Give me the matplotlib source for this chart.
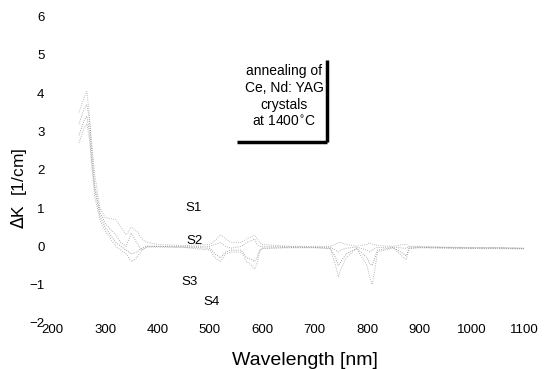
import matplotlib
matplotlib.use("Agg")
import matplotlib.pyplot as plt
from matplotlib.lines import Line2D

plt.rcParams['font.family'] = ['Liberation Sans', 'DejaVu Sans']

# wavelength grid (nm)
wl = [250, 260, 265, 270, 275, 280, 290, 300, 320, 330, 340, 350, 360, 370, 380,
      400, 450, 500, 510, 520, 530, 540, 560, 570, 580, 585, 590, 595, 600,
      650, 700, 730, 740, 745, 750, 760, 780, 800, 805, 810, 815, 820,
      850, 870, 875, 880, 900, 950, 1000, 1050, 1100]

# delta K (1/cm) for the four annealed samples
s1 = [3.5, 3.9, 4.05, 3.4, 2.6, 1.9, 1.0, 0.75, 0.7, 0.5, 0.3, 0.5, 0.4, 0.2, 0.1,
      0.05, 0.02, 0.05, 0.15, 0.3, 0.2, 0.1, 0.1, 0.2, 0.25, 0.3, 0.2, 0.1, 0.05,
      0.0, 0.0, 0.0, 0.05, 0.1, 0.1, 0.05, 0.0, 0.05, 0.1, 0.05, 0.05, 0.02,
      0.0, 0.05, 0.05, 0.0, 0.0, -0.02, -0.03, -0.03, -0.05]
s2 = [3.2, 3.6, 3.7, 3.3, 2.4, 1.6, 0.9, 0.6, 0.3, 0.1, 0.0, 0.35, 0.1, -0.1, 0.0,
      0.0, 0.0, 0.0, 0.05, 0.1, 0.0, -0.05, 0.0, 0.1, 0.15, 0.2, 0.05, 0.0, 0.0,
      0.0, -0.02, -0.02, -0.1, -0.15, -0.1, -0.05, -0.02, -0.1, -0.15, -0.1, -0.05, -0.03,
      -0.02, -0.05, -0.05, -0.02, -0.02, -0.03, -0.04, -0.04, -0.05]
s3 = [2.9, 3.3, 3.4, 3.0, 2.2, 1.5, 0.8, 0.5, 0.1, 0.0, -0.1, -0.2, -0.15, -0.05, 0.0,
      0.0, -0.02, -0.05, -0.2, -0.3, -0.15, -0.1, -0.1, -0.3, -0.35, -0.4, -0.3, -0.1, -0.05,
      -0.03, -0.03, -0.05, -0.3, -0.5, -0.4, -0.2, -0.05, -0.3, -0.45, -0.5, -0.3, -0.1,
      -0.03, -0.2, -0.25, -0.05, -0.03, -0.04, -0.05, -0.05, -0.06]
s4 = [2.7, 3.1, 3.2, 2.8, 2.0, 1.3, 0.7, 0.4, 0.0, -0.1, -0.2, -0.4, -0.3, -0.1, -0.02,
      -0.02, -0.03, -0.1, -0.3, -0.4, -0.2, -0.15, -0.15, -0.4, -0.5, -0.6, -0.45, -0.15, -0.05,
      -0.04, -0.04, -0.06, -0.5, -0.8, -0.6, -0.3, -0.06, -0.5, -0.8, -1.0, -0.6, -0.15,
      -0.04, -0.3, -0.35, -0.06, -0.04, -0.05, -0.06, -0.06, -0.07]

series = [s1, s2, s3, s4]
names = ['S1', 'S2', 'S3', 'S4']
label_pos = [(468, 1.0), (470, 0.15), (462, -0.92), (504, -1.45)]

fig = plt.figure(figsize=(5.5, 3.69), dpi=100)
ax = fig.add_axes([0.096, 0.125, 0.857, 0.83])

for s, c in zip(series, ['#a8a8a8', '#989898', '#888888', '#a0a0a0']):
    ax.plot(wl, s, color=c, lw=0.6, ls=':')

for n, (x, y) in zip(names, label_pos):
    ax.text(x, y, n, fontsize=9.5, ha='center', va='center')

ax.set_xlim(200, 1100)
ax.set_ylim(-2, 6)
ax.set_xticks(range(200, 1101, 100))
ax.set_yticks(range(-2, 7))
for sp in ax.spines.values():
    sp.set_visible(False)
ax.tick_params(length=0, labelsize=9.5)
ax.tick_params(axis='x', pad=1)
ax.tick_params(axis='y', pad=6)
ax.set_xlabel('Wavelength [nm]', fontsize=14)
ax.xaxis.set_label_coords(0.535, -0.095)
ax.set_ylabel(r'$\Delta$K  [1/cm]', fontsize=12.5)
ax.yaxis.set_label_coords(-0.05, 0.44)

# inset caption with thick corner frame
cap = ['annealing of', 'Ce, Nd: YAG', 'crystals', 'at 1400$^{\\circ}$C']
for i, t in enumerate(cap):
    ax.text(642, 4.57 - i * 0.44, t, fontsize=10, ha='center', va='center')
ax.add_line(Line2D([724, 724], [2.73, 4.86], color='black', lw=2.5, solid_capstyle='butt'))
ax.add_line(Line2D([552, 724], [2.73, 2.73], color='black', lw=2.5, solid_capstyle='butt'))

fig.savefig('out.png', dpi=100)
